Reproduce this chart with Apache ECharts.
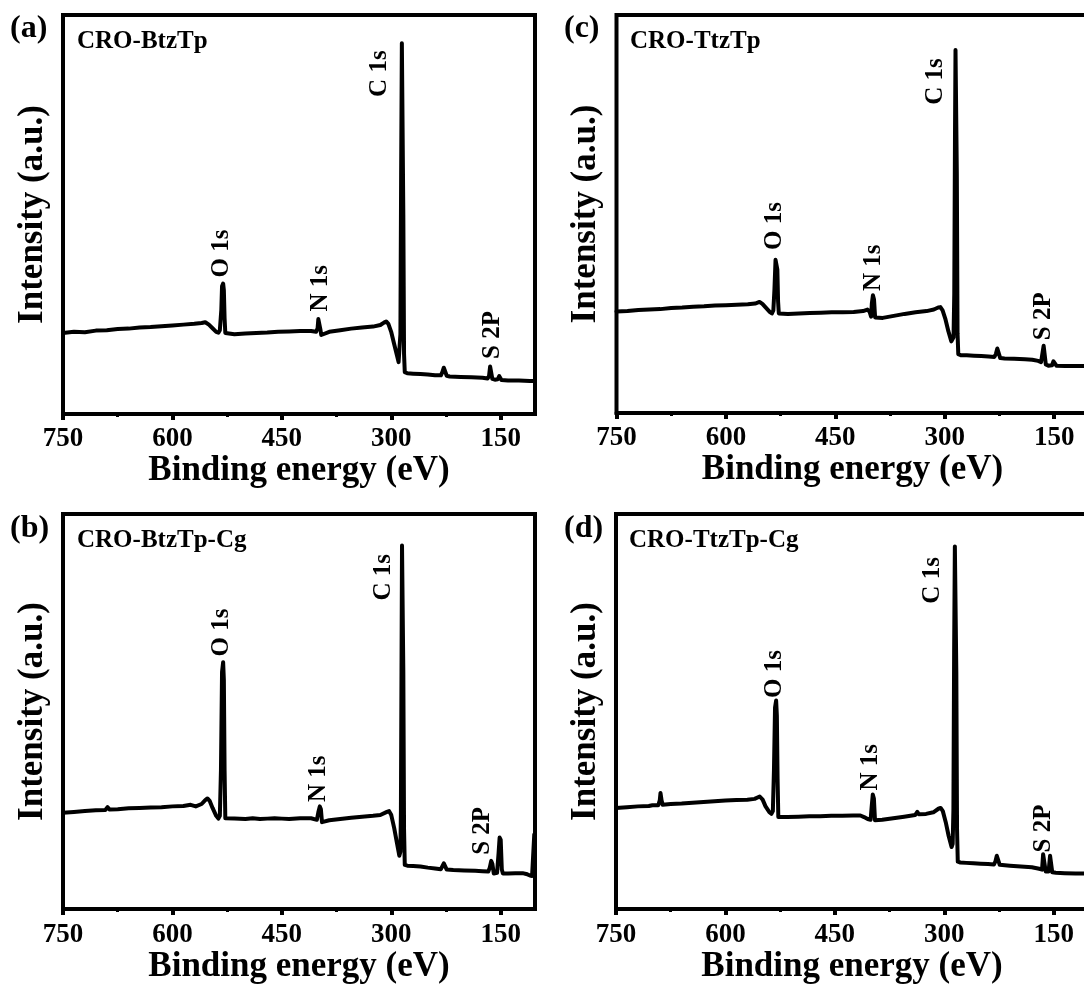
<!DOCTYPE html>
<html><head><meta charset="utf-8">
<script src="https://cdn.jsdelivr.net/npm/echarts@6/dist/echarts.min.js"></script>
<style>html,body{margin:0;padding:0;overflow:hidden;background:#fff}#chart{width:1100px;height:985px}</style>
</head><body><div id="chart"></div>
<script>
const panelLetters = ['(a)', '(b)', '(c)', '(d)'];
const sampleNames = ['CRO-BtzTp', 'CRO-BtzTp-Cg', 'CRO-TtzTp', 'CRO-TtzTp-Cg'];
const xTickValues = [750, 600, 450, 300, 150];
const xMinorTickValues = [675, 525, 375, 225];
const xAxisTitle = 'Binding energy (eV)';
const yAxisTitle = 'Intensity (a.u.)';

// [binding energy (eV), intensity (a.u.)]
const spectrumA = [
[750,20.3],[735,20.6],[720,20.5],[705,20.9],[690,21.0],[675,21.3],[660,21.4],[645,21.7],[630,21.8],[615,22.0],
[600,22.2],[585,22.4],[570,22.6],[560,22.8],[555,23.0],[550,22.4],[545,21.5],[540,20.6],[537,20.4],[535,21.0],
[533,26.0],[532,32.0],[530.5,32.7],[529.5,31.0],[528.5,24.0],[527.5,20.3],[526,19.9],[515,20.0],[500,20.2],[485,20.3],
[470,20.4],[455,20.6],[440,20.7],[425,20.8],[410,20.8],[403,20.6],[401,21.5],[400,23.8],[398.5,23.9],[397,21.0],
[396,19.8],[394,20.1],[385,20.6],[370,21.0],[355,21.4],[340,21.7],[325,21.9],[315,22.3],[310,22.9],[307,23.2],
[304,22.6],[300,20.5],[296,17.5],[292,14.5],[290,13.0],[288.5,13.5],[287.5,20.0],[286.5,60.0],[285.5,92.9],[284.5,92.9],
[283.5,50.0],[282.5,15.0],[281.5,10.5],[278,10.2],[270,10.1],[260,10.0],[250,9.9],[240,9.7],[232,9.7],[230,10.5],
[228,11.6],[226,11.4],[224,9.6],[220,9.4],[205,9.3],[190,9.2],[175,9.1],[168,8.9],[166,9.5],[164.5,11.9],
[163,11.7],[161.5,8.8],[158,8.6],[154,8.7],[152,9.5],[150.5,9.4],[149,8.5],[140,8.4],[125,8.4],[110,8.3],[103,8.3]
];
const spectrumB = [
[750,24.4],[735,24.6],[720,24.8],[705,25.0],[692,25.1],[689,25.8],[686,25.2],[675,25.3],[660,25.5],[645,25.6],
[630,25.7],[615,25.8],[600,26.0],[585,26.1],[575,26.4],[568,26.0],[560,26.6],[555,27.6],[552,28.0],[549,27.4],
[545,25.6],[540,23.6],[537,22.9],[535,23.6],[533.5,35.0],[532,60.0],[530.5,62.5],[529.5,58.0],[528.5,35.0],[527.5,23.0],
[526,22.7],[515,22.9],[500,22.8],[490,23.0],[480,22.8],[470,22.9],[460,23.0],[450,22.9],[440,22.8],[425,23.0],
[410,23.0],[402,22.6],[400,24.5],[398,26.0],[396.5,25.3],[395,22.0],[393,21.9],[385,22.5],[370,22.8],[355,23.1],
[340,23.4],[325,23.6],[315,23.8],[306,24.6],[303,24.8],[300,23.8],[296,20.5],[292,16.5],[289,13.5],[287.5,14.5],
[286.8,25.0],[286,60.0],[285.3,92.0],[284.5,92.0],[283.5,60.0],[282.5,20.0],[281.5,11.2],[278,11.0],[270,10.9],[260,10.8],
[250,10.5],[240,10.3],[232,10.1],[230,10.6],[228,11.6],[226,11.4],[224,10.0],[215,9.9],[200,9.8],[185,9.7],
[175,9.6],[167,9.5],[165,10.5],[163,12.2],[161.5,11.5],[159.5,9.0],[157,8.9],[155,9.2],[153,14.0],[151.5,18.1],
[150,17.5],[148.5,10.0],[147,9.0],[140,9.0],[130,9.1],[120,9.1],[115,8.9],[110,8.5],[107,8.4],[105,8.6],[104,18.9]
];
const spectrumC = [
[750,25.5],[735,25.6],[720,25.9],[705,26.0],[690,26.1],[675,26.4],[660,26.5],[645,26.7],[630,26.8],[615,27.0],
[600,27.1],[585,27.2],[570,27.3],[560,27.5],[554,27.9],[550,27.4],[545,26.4],[540,25.4],[537,25.0],[535,25.8],
[533.5,31.0],[532,38.5],[530.5,39.0],[529.5,36.0],[528.5,28.0],[527.5,25.0],[526,24.8],[515,24.9],[500,25.0],[485,25.1],
[470,25.2],[455,25.3],[440,25.3],[425,25.4],[412,25.6],[406,26.0],[403,25.4],[401,24.2],[400,27.5],[398.5,29.6],
[397,28.5],[395.5,24.0],[393,23.6],[385,23.9],[370,24.4],[355,24.9],[340,25.3],[325,25.6],[315,26.0],[309,26.5],
[306,26.6],[303,25.8],[299,23.5],[295,20.5],[291,18.0],[289.5,17.7],[288,19.0],[287,30.0],[286,70.0],[285.3,91.2],
[284.5,91.2],[283.5,60.0],[282.5,20.0],[281.5,14.8],[278,14.5],[270,14.5],[260,14.4],[250,14.3],[240,14.2],[232,14.1],
[230,14.8],[228,16.2],[226,15.9],[224,13.8],[218,13.7],[205,13.6],[190,13.5],[180,13.4],[172,13.1],[168,12.8],
[166,13.2],[164.5,16.9],[163,16.7],[161.5,12.2],[158,11.9],[153,12.0],[151,13.0],[149.5,12.6],[147,11.9],[135,11.8],
[120,11.8],[103,11.8]
];
const spectrumD = [
[750,25.6],[735,25.8],[720,26.0],[705,26.1],[700,26.3],[692,26.3],[690,27.5],[689,29.4],[687.5,27.5],[686,26.4],
[675,26.6],[660,26.7],[645,26.9],[630,27.1],[615,27.3],[600,27.5],[585,27.6],[570,27.7],[560,27.9],[553,28.5],
[549,27.7],[545,26.0],[540,24.6],[537,24.1],[535,24.8],[533.5,35.0],[532,51.0],[530.5,52.8],[529.5,49.0],[528.5,33.0],
[527.5,23.3],[526,23.1],[515,23.3],[500,23.4],[485,23.5],[470,23.5],[455,23.6],[440,23.6],[425,23.7],[415,23.7],
[410,23.3],[405,22.8],[401,22.6],[399.5,26.0],[398,29.0],[396.5,28.0],[395,22.5],[393,22.3],[385,22.6],[370,23.0],
[355,23.4],[340,23.8],[337,24.6],[335,24.0],[325,24.1],[315,24.5],[308,25.4],[305,25.6],[302,24.8],[298,22.0],
[294,18.5],[290,15.7],[288.5,16.5],[287.5,25.0],[286.5,65.0],[285.5,91.8],[284.5,91.8],[283.5,60.0],[282.5,20.0],[281.5,12.0],
[278,11.8],[270,11.7],[260,11.6],[250,11.5],[240,11.4],[232,11.3],[230,12.0],[228,13.5],[226,13.2],[224,11.2],
[210,11.0],[195,10.8],[180,10.6],[170,10.2],[166,10.0],[164.5,13.9],[163,13.7],[161,9.5],[159,9.4],[157,9.5],
[155,13.5],[153.5,13.5],[152,9.3],[147,9.2],[135,9.1],[120,9.0],[103,9.0]
];

// [label, energy, intensity]
const peakLabelsA = [['C 1s',316,85.3],['O 1s',532.5,40.2],['N 1s',397,31.5],['S 2P',161.6,19.8]];
const peakLabelsB = [['C 1s',310,84.0],['O 1s',532.5,70.0],['N 1s',399.6,33.0],['S 2P',175,19.8]];
const peakLabelsC = [['C 1s',313,83.3],['O 1s',533,47.0],['N 1s',397.8,36.5],['S 2P',165,24.3]];
const peakLabelsD = [['C 1s',315.6,83.2],['O 1s',532,59.5],['N 1s',401,35.9],['S 2P',163.5,20.4]];

const FONT = "'Liberation Serif','Times New Roman',serif";
const spectra = [spectrumA, spectrumB, spectrumC, spectrumD];
const peakLabels = [peakLabelsA, peakLabelsB, peakLabelsC, peakLabelsD];
const grids = [
  {left: 63, top: 15, width: 472, height: 399},
  {left: 63, top: 514, width: 472, height: 398},
  {left: 616.5, top: 15, width: 472, height: 398},
  {left: 616, top: 514, width: 472, height: 398}
];
const letterPos = [[10, 13], [10, 513], [564, 13], [564, 513]];
const namePos = [[77, 29], [77, 528], [630, 29], [629, 528]];

const xMin = 103, xMax = 750;
const option = {
  animation: false,
  backgroundColor: '#fff',
  grid: grids.map(g => Object.assign({}, g, {show: true, borderColor: '#000', borderWidth: 4})),
  xAxis: [],
  yAxis: [],
  series: [],
  graphic: []
};
const titleStyle = {fontSize: 35, fontWeight: 'bold', fontFamily: FONT, color: '#000'};
for (let i = 0; i < 4; i++) {
  option.xAxis.push({
    type: 'value', gridIndex: i, min: xMin, max: xMax, inverse: true, position: 'bottom',
    axisLine: {show: true, lineStyle: {color: '#000', width: 4}},
    axisTick: {show: true, inside: false, length: 6, lineStyle: {color: '#000', width: 4}, customValues: xTickValues},
    axisLabel: {show: true, customValues: xTickValues, margin: 12, fontSize: 27, fontWeight: 'bold', fontFamily: FONT, color: '#000'},
    splitLine: {show: false},
    name: xAxisTitle, nameLocation: 'middle', nameGap: 35, nameTextStyle: titleStyle
  });
  option.yAxis.push({
    type: 'value', gridIndex: i, min: 0, max: 100,
    axisLine: {show: false}, axisTick: {show: false}, axisLabel: {show: false}, splitLine: {show: false},
    name: yAxisTitle, nameLocation: 'middle', nameGap: 13, nameRotate: 90, nameTextStyle: titleStyle
  });
  option.series.push({
    type: 'line', xAxisIndex: i, yAxisIndex: i, data: spectra[i], showSymbol: false, symbol: 'none',
    lineStyle: {color: '#000', width: 4, join: 'round', cap: 'round'}, clip: true, silent: true
  });
  option.series.push({
    type: 'scatter', xAxisIndex: 4 + i, yAxisIndex: i, symbolSize: 1, itemStyle: {color: 'transparent'}, silent: true,
    data: peakLabels[i].map(p => ({name: p[0], value: [p[1], p[2]]})),
    label: {show: true, position: 'inside', rotate: 90, formatter: '{b}', fontSize: 25, fontWeight: 'bold', fontFamily: FONT,
            color: '#000', textBorderWidth: 0, textBorderColor: 'transparent', opacity: 1}
  });
  option.graphic.push({type: 'text', left: letterPos[i][0], top: letterPos[i][1], style: {text: panelLetters[i], font: 'bold 32px ' + FONT, fill: '#000'}});
  option.graphic.push({type: 'text', left: namePos[i][0], top: namePos[i][1], style: {text: sampleNames[i], font: 'bold 25px ' + FONT, fill: '#000'}});
}
for (let i = 0; i < 4; i++) {
  option.xAxis.push({
    type: 'value', gridIndex: i, min: xMin, max: xMax, inverse: true, position: 'bottom',
    axisLine: {show: false},
    axisTick: {show: true, inside: false, length: 3, lineStyle: {color: '#000', width: 3}, customValues: xMinorTickValues},
    axisLabel: {show: false}, splitLine: {show: false}
  });
}
const chart = echarts.init(document.getElementById('chart'), null, {renderer: 'canvas'});
chart.setOption(option);
</script></body></html>
